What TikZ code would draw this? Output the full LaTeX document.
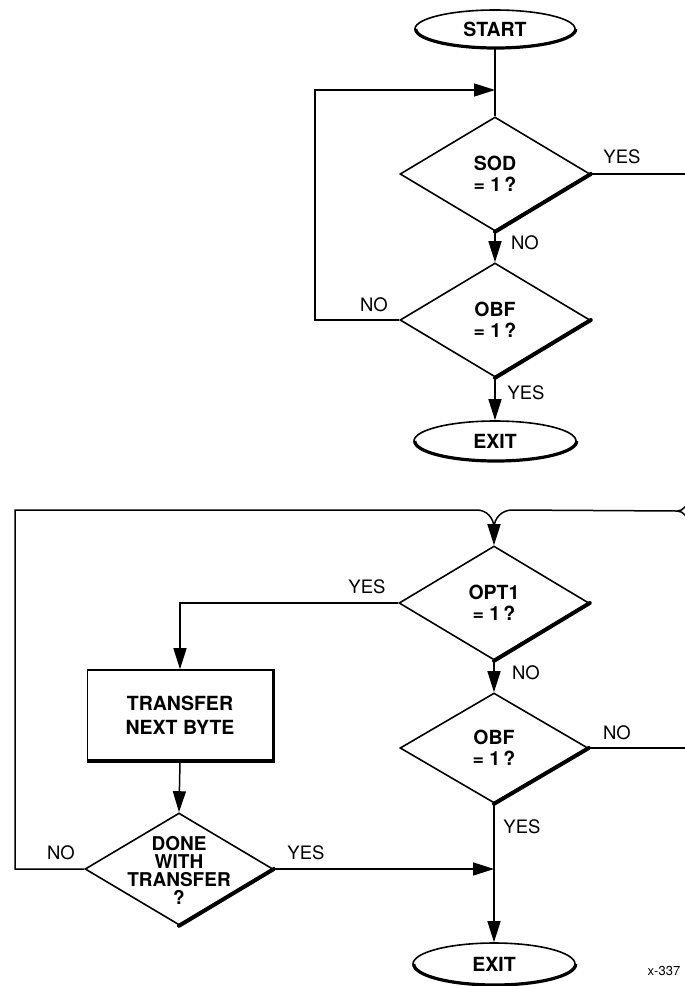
\documentclass[tikz,border=0pt]{standalone}
\usepackage{fontspec}
\setmainfont{TeX Gyre Heros}
\usetikzlibrary{shapes.geometric,arrows.meta}
\tikzset{
  dia/.style={diamond,draw,line width=1.6pt,minimum width=190pt,minimum height=114pt,inner sep=0pt,align=center,font=\fontsize{19.5}{20.5}\selectfont\bfseries},
  term/.style={ellipse,draw,line width=1.6pt,minimum width=160pt,minimum height=38pt,inner sep=0pt,font=\fontsize{19.5}{20}\selectfont\bfseries},
  procbox/.style={rectangle,draw,line width=1.6pt,minimum width=185pt,minimum height=90pt,align=center,font=\fontsize{19.5}{24}\selectfont\bfseries},
  lbl/.style={font=\fontsize{18.5}{20}\selectfont,inner sep=0pt},
  conn/.style={line width=1.5pt},
  arr/.style={conn,-{Triangle[length=21pt,width=13pt]}},
  heavy/.style={line width=4pt,line cap=round},
}
\begin{document}
\begin{tikzpicture}[x=1pt,y=-1pt]
\useasboundingbox (0,0) rectangle (685,986);
\clip (0,0) rectangle (685,986);
% top section
\node[term] (start) at (495,29) {START};
\node[dia] (sod) at (495,174) {SOD\\= 1\,?};
\node[dia] (obfa) at (495,320) {OBF\\= 1\,?};
\node[term,minimum width=162pt,minimum height=40pt] (exita) at (495,441) {EXIT};
\coordinate (ja) at (495,90);
\coordinate (la) at (315,90);
\coordinate (lb) at (315,320);
\coordinate (ra) at (688,174);
% bottom section
\node[dia] (opt) at (494,603) {OPT1\\= 1\,?};
\node[dia,minimum width=188pt,minimum height=110pt] (obfb) at (494,748) {OBF\\= 1\,?};
\node[term,minimum width=162pt,minimum height=42pt] (exitb) at (494,964) {EXIT};
\node[procbox] (xfer) at (180,715) {TRANSFER\\NEXT BYTE};
\node[dia,minimum width=188pt,minimum height=112pt] (done) at (179,869) {};
\node[align=center,inner sep=0pt,font=\fontsize{19}{18}\selectfont\bfseries] (donetxt) at (179,870) {DONE\\WITH\\TRANSFER\\?};
\coordinate (jb) at (494,528);
\coordinate (lt) at (15,510);
\coordinate (lbot) at (15,869);
\coordinate (yl) at (180,603);
\coordinate (jc) at (494,869);
\coordinate (rj) at (677,511);
\coordinate (rup) at (688,498);
\coordinate (rdn) at (688,524);
\coordinate (rb) at (688,748);
% heavy shadow edges
\draw[heavy] (sod.east) -- (sod.south);
\draw[heavy] (obfa.east) -- (obfa.south);
\draw[heavy] (opt.east) -- (opt.south);
\draw[heavy] (obfb.east) -- (obfb.south);
\draw[heavy] (done.east) -- (done.south);
\draw[line width=3.2pt] (start.east) arc[start angle=0,end angle=-180,x radius=80pt,y radius=19pt];
\draw[line width=3.2pt] (exita.east) arc[start angle=0,end angle=-180,x radius=81pt,y radius=20pt];
\draw[line width=3.2pt] (exitb.east) arc[start angle=0,end angle=-180,x radius=81pt,y radius=21pt];
\draw[line width=3.5pt] (xfer.north east) -- (xfer.south east) -- (xfer.south west);
% connectors top
\draw[conn] (start.south) -- (sod.north);
\draw[arr] (obfa.west) -- (lb) -- (la) -- (ja);
\draw[arr] (sod.south) -- (obfa.north);
\draw[arr] (obfa.south) -- (exita.north);
\draw[conn] (sod.east) -- (ra) -- (rup);
% connectors bottom
\draw[conn] (done.west) -- (lbot) -- (lt) -- (477,510) to[out=0,in=90] (jb);
\draw[conn] (rj) -- (512,510) to[out=180,in=90] (jb);
\draw[conn] (rup) to[out=-90,in=0] (rj);
\draw[conn] (rdn) to[out=90,in=0] (rj);
\draw[conn] (obfb.east) -- (rb) -- (rdn);
\draw[arr] (jb) -- (opt.north);
\draw[arr] (opt.west) -- (yl) -- (xfer.north);
\draw[arr] (xfer.south) -- (done.north);
\draw[arr] (opt.south) -- (obfb.north);
\draw[arr] (done.east) -- (jc);
\draw[conn] (obfb.south) -- (jc);
\draw[arr] (jc) -- (exitb.north);
% labels
\node[lbl] (l1) at (622,157) {YES};
\node[lbl] (l2) at (525,243) {NO};
\node[lbl] (l3) at (374,305) {NO};
\node[lbl] (l4) at (526,393) {YES};
\node[lbl] (l5) at (367,587) {YES};
\node[lbl] (l6) at (526,673) {NO};
\node[lbl] (l7) at (617,733) {NO};
\node[lbl] (l8) at (522,827) {YES};
\node[lbl] (l9) at (61,853) {NO};
\node[lbl] (l10) at (306,853) {YES};
\node[font=\fontsize{13}{14}\selectfont,inner sep=0pt] (fig) at (664,971) {x-337};
\end{tikzpicture}
\end{document}
